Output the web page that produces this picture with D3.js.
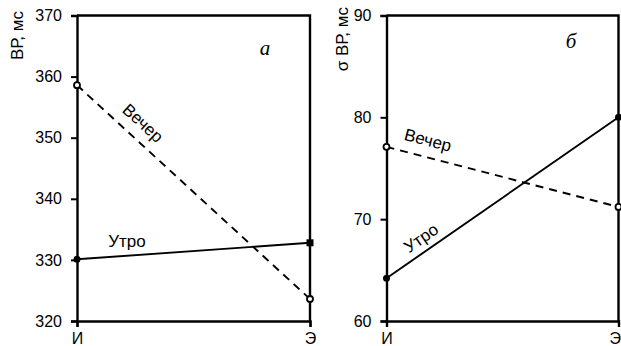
<!DOCTYPE html>
<html>
<head>
<meta charset="utf-8">
<script src="https://cdn.jsdelivr.net/npm/d3@7"></script>
<style>
  html, body { margin: 0; padding: 0; background: #fff; }
  svg { display: block; }
  text { font-family: "Liberation Sans", Arial, sans-serif; fill: #000; }
</style>
</head>
<body>
<svg id="chart" width="621" height="346"></svg>
<script>
// Conditions on the x axis
const conditions = ["И", "Э"];

// Panel а: mean ВР, мс
const meanMorning = [330.1, 332.8];
const meanEvening = [358.6, 323.6];
const meanTicks = [320, 330, 340, 350, 360, 370];

// Panel б: σ ВР, мс
const sdMorning = [64.2, 80.0];
const sdEvening = [77.1, 71.2];
const sdTicks = [60, 70, 80, 90];

const svg = d3.select("#chart");

const panels = [
  {
    left: 77, right: 310, top: 15.5, bottom: 321,
    domain: [320, 370], ticks: meanTicks,
    title: "ВР, мс", titleX: 17, titleTop: 11,
    letter: "а", letterX: 265, letterY: 55,
    morning: meanMorning, evening: meanEvening,
    morningEndSquare: true,
    eveningLabel: { x: 143, y: 123 },
    morningLabel: { x: 127, y: 247 }
  },
  {
    left: 386.5, right: 618.5, top: 15.5, bottom: 321,
    domain: [60, 90], ticks: sdTicks,
    title: "σ ВР, мс", titleX: 342, titleTop: 7,
    letter: "б", letterX: 571, letterY: 48,
    morning: sdMorning, evening: sdEvening,
    morningEndSquare: false,
    eveningLabel: { x: 428, y: 140 },
    morningLabel: { x: 421, y: 238 }
  }
];

panels.forEach(p => {
  const x = d3.scalePoint().domain(conditions).range([p.left, p.right]).padding(0);
  const y = d3.scaleLinear().domain(p.domain).range([p.bottom, p.top]);
  const g = svg.append("g");

  // frame (top and right sides)
  g.append("path")
    .attr("d", `M${p.left},${y(p.domain[1])}H${p.right}V${y(p.domain[0])}`)
    .attr("fill", "none").attr("stroke", "#000").attr("stroke-width", 2.4);

  // y axis
  const yAxis = g.append("g")
    .attr("transform", `translate(${p.left},0)`)
    .call(d3.axisLeft(y).tickValues(p.ticks).tickSize(6).tickPadding(9).tickFormat(d3.format("d")));
  yAxis.select(".domain").attr("stroke-width", 2.4);
  yAxis.selectAll(".tick line").attr("stroke-width", 2);
  yAxis.selectAll("text").attr("font-size", 16).attr("font-family", "Liberation Sans, Arial, sans-serif");

  // x axis
  const xAxis = g.append("g")
    .attr("transform", `translate(0,${p.bottom})`)
    .call(d3.axisBottom(x).tickSize(6).tickPadding(6));
  xAxis.select(".domain").attr("stroke-width", 2.4);
  xAxis.selectAll(".tick line").attr("stroke-width", 2);
  xAxis.selectAll("text").attr("font-size", 16).attr("font-family", "Liberation Sans, Arial, sans-serif");
  // keep the right-hand label inside the page edge
  xAxis.selectAll("text")
    .filter(d => x(d) > 600)
    .attr("text-anchor", "end").attr("x", 621 - x.range()[1] - 0.5);

  // y axis title
  g.append("text")
    .attr("transform", `translate(${p.titleX + 6},${p.titleTop}) rotate(-90)`)
    .attr("text-anchor", "end")
    .attr("font-size", 17)
    .text(p.title);

  // panel letter
  g.append("text")
    .attr("x", p.letterX).attr("y", p.letterY)
    .attr("text-anchor", "middle")
    .style("font-family", "'Liberation Serif', 'Times New Roman', serif")
    .style("font-style", "italic")
    .attr("font-size", 21)
    .text(p.letter);

  const line = d3.line().x((d, i) => x(conditions[i])).y(d => y(d));

  // evening: dashed
  g.append("path").datum(p.evening)
    .attr("d", line).attr("fill", "none")
    .attr("stroke", "#000").attr("stroke-width", 1.9)
    .attr("stroke-dasharray", "8,6");

  // morning: solid
  g.append("path").datum(p.morning)
    .attr("d", line).attr("fill", "none")
    .attr("stroke", "#000").attr("stroke-width", 1.9);

  // markers
  g.selectAll(".ev").data(p.evening).join("circle")
    .attr("cx", (d, i) => x(conditions[i])).attr("cy", d => y(d))
    .attr("r", 3).attr("fill", "#fff").attr("stroke", "#000").attr("stroke-width", 1.8);

  p.morning.forEach((d, i) => {
    if (i === 1 && p.morningEndSquare) {
      g.append("rect")
        .attr("x", x(conditions[i]) - 3.5).attr("y", y(d) - 3.5)
        .attr("width", 7).attr("height", 7).attr("fill", "#000");
    } else {
      g.append("circle")
        .attr("cx", x(conditions[i])).attr("cy", y(d))
        .attr("r", 3.5).attr("fill", "#000");
    }
  });

  // series labels, rotated along their lines
  const angle = (vals) => Math.atan2(y(vals[1]) - y(vals[0]), x(conditions[1]) - x(conditions[0])) * 180 / Math.PI;
  const evA = angle(p.evening);
  const moA = p.morningEndSquare ? 0 : angle(p.morning);

  g.append("text")
    .attr("transform", `translate(${p.eveningLabel.x},${p.eveningLabel.y}) rotate(${evA})`)
    .attr("text-anchor", "middle").attr("dy", "0.35em")
    .attr("font-size", 17).text("Вечер");

  g.append("text")
    .attr("transform", `translate(${p.morningLabel.x},${p.morningLabel.y}) rotate(${moA})`)
    .attr("text-anchor", "middle").attr("dy", p.morningEndSquare ? "0" : "0.35em")
    .attr("font-size", 17).text("Утро");
});
</script>
</body>
</html>
